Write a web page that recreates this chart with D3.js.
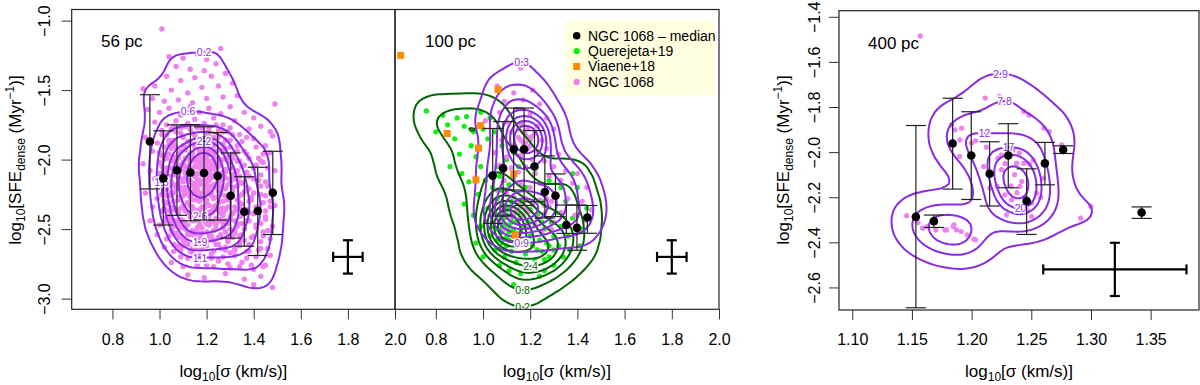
<!DOCTYPE html>
<html>
<head>
<meta charset="utf-8">
<script src="https://cdn.jsdelivr.net/npm/d3@7"></script>
<style>
body { margin: 0; background: #fff; }
svg { font-family: "Liberation Sans", Arial, Helvetica, sans-serif; display: block; }
</style>
</head>
<body>
<div id="chart"></div>
<script>
// ---- data ----
const panelLabels = ["56 pc", "100 pc", "400 pc"];
const xTicksWide = [0.8, 1.0, 1.2, 1.4, 1.6, 1.8, 2.0];
const yTicksWide = [-3.0, -2.5, -2.0, -1.5, -1.0];
const xTicks400 = [1.10, 1.15, 1.20, 1.25, 1.30, 1.35];
const yTicks400 = [-2.6, -2.4, -2.2, -2.0, -1.8, -1.6, -1.4];

const legendNames = ["NGC 1068 \u2013 median", "Querejeta+19", "Viaene+18", "NGC 1068"];

// medians with 16-84 range
const med56Sigma = [0.959, 1.016, 1.074, 1.131, 1.189, 1.247, 1.302, 1.360, 1.417, 1.481];
const med56Sfe = [-1.870, -2.134, -2.077, -2.094, -2.096, -2.118, -2.260, -2.375, -2.370, -2.238];
const med56Lo = [-2.211, -2.471, -2.401, -2.440, -2.435, -2.435, -2.565, -2.623, -2.690, -2.539];
const med56Hi = [-1.533, -1.793, -1.750, -1.748, -1.764, -1.805, -1.952, -2.123, -2.055, -1.940];

const med100Sigma = [1.041, 1.085, 1.130, 1.174, 1.218, 1.262, 1.307, 1.353, 1.398, 1.442];
const med100Sfe = [-2.115, -2.062, -1.925, -1.925, -2.050, -2.233, -2.260, -2.471, -2.491, -2.416];
const med100Lo = [-2.459, -2.406, -2.219, -2.330, -2.303, -2.420, -2.410, -2.531, -2.652, -2.530];
const med100Hi = [-1.776, -1.726, -1.629, -1.629, -1.791, -1.973, -2.103, -2.327, -2.327, -2.330];

const med400Sigma = [1.1533, 1.1684, 1.1841, 1.1997, 1.2151, 1.2307, 1.2461, 1.2614, 1.2767, 1.3424];
const med400Sfe = [-2.287, -2.306, -1.962, -2.015, -2.096, -2.015, -2.217, -2.050, -1.990, -2.268];
const med400Lo = [-2.690, -2.334, -2.164, -2.210, -2.239, -2.158, -2.365, -2.145, -2.006, -2.294];
const med400Hi = [-1.882, -2.279, -1.761, -1.821, -1.954, -1.874, -2.074, -1.957, -1.972, -2.243];

// typical uncertainty crosses
const errCrossX = [1.80, 1.80, 1.32];
const errCrossY = [-2.70, -2.70, -2.52];
const errCrossDx = [0.0625, 0.0625, 0.06];
const errCrossDy = [0.12, 0.12, 0.118];

// density contour levels
const levels56 = [0.2, 0.6, 1.1, 1.5, 1.9, 2.2, 2.6, 3.0];
const levels100 = [0.3, 0.9, 1.5, 2.1, 2.7, 3.3, 3.9];
const levelsQ19 = [0.2, 0.8, 1.4, 1.9, 2.4, 2.9, 3.4, 3.9, 4.4];
const levels400 = [2.9, 7.8, 12, 17, 20, 24];

// Viaene+18 (100 pc panel)
const viaenePoints = [[0.651,-1.250],[1.064,-1.497],[0.990,-1.755],[0.848,-1.812],
  [0.981,-1.918],[0.970,-2.146],[1.130,-2.103],[1.136,-2.541]];

// NGC 1068 pixels at 56 pc
const ngc56Points = [
  [1.01,-1.06],[1.26,-1.20],[1.04,-1.26],[1.10,-1.27],[1.16,-1.24],[1.20,-1.28],[1.07,-1.33],[1.13,-1.35],
  [1.19,-1.36],[1.24,-1.31],[1.03,-1.40],[1.09,-1.43],[1.15,-1.41],[1.22,-1.40],[1.28,-1.38],[0.93,-1.49],
  [0.98,-1.47],[1.05,-1.50],[1.12,-1.52],[1.18,-1.48],[1.25,-1.47],[1.31,-1.45],[1.49,-1.60],[0.97,-1.56],
  [1.02,-1.58],[1.08,-1.57],[1.14,-1.59],[1.20,-1.56],[1.27,-1.55],[1.33,-1.54],
  [0.95,-1.64],[1.00,-1.66],[1.04,-1.63],[1.09,-1.68],[1.13,-1.62],[1.17,-1.66],[1.21,-1.63],[1.26,-1.67],
  [1.30,-1.62],[1.36,-1.66],[1.40,-1.70],[0.98,-1.73],[1.03,-1.75],[1.07,-1.72],[1.11,-1.76],[1.15,-1.71],
  [1.19,-1.74],[1.23,-1.70],[1.27,-1.75],[1.32,-1.72],[1.38,-1.78],[1.43,-1.76],[1.47,-1.80],[1.01,-1.79],
  [1.13,-1.78],[1.25,-1.79],
  [0.94,-1.84],[0.99,-1.88],[1.03,-1.82],[1.06,-1.86],[1.09,-1.81],[1.12,-1.87],[1.15,-1.83],[1.18,-1.85],
  [1.20,-1.81],[1.22,-1.88],[1.25,-1.84],[1.28,-1.86],[1.31,-1.82],[1.35,-1.87],[1.40,-1.85],[1.45,-1.90],
  [1.48,-1.83],[0.97,-1.94],[1.01,-1.97],[1.05,-1.92],[1.08,-1.96],[1.11,-1.93],[1.14,-1.98],[1.17,-1.92],
  [1.19,-1.96],[1.21,-1.91],[1.23,-1.97],[1.26,-1.93],[1.29,-1.98],[1.33,-1.94],[1.37,-1.96],[1.42,-1.99],
  [1.47,-1.95],[1.16,-1.89],[1.24,-1.94],
  [0.93,-2.03],[0.96,-2.08],[1.00,-2.02],[1.03,-2.06],[1.05,-2.01],[1.07,-2.09],[1.09,-2.04],[1.11,-2.07],
  [1.13,-2.02],[1.15,-2.05],[1.17,-2.01],[1.18,-2.08],[1.20,-2.03],[1.21,-2.06],[1.23,-2.00],[1.24,-2.09],
  [1.26,-2.04],[1.28,-2.07],[1.30,-2.02],[1.33,-2.08],[1.36,-2.04],[1.40,-2.06],[1.44,-2.02],[1.49,-2.08],
  [0.98,-2.14],[1.01,-2.17],[1.04,-2.12],[1.06,-2.18],[1.08,-2.13],[1.10,-2.16],[1.12,-2.11],[1.14,-2.19],
  [1.16,-2.14],[1.19,-2.12],[1.20,-2.17],[1.22,-2.13],[1.25,-2.16],[1.27,-2.11],[1.29,-2.18],[1.32,-2.14],
  [1.35,-2.17],[1.38,-2.12],[1.42,-2.15],[1.46,-2.19],[1.18,-2.04],[1.21,-2.10],[1.13,-2.09],
  [0.94,-2.24],[0.99,-2.28],[1.02,-2.22],[1.05,-2.26],[1.07,-2.21],[1.09,-2.29],[1.11,-2.24],[1.13,-2.27],
  [1.15,-2.22],[1.17,-2.30],[1.19,-2.25],[1.21,-2.21],[1.23,-2.28],[1.25,-2.23],[1.27,-2.30],[1.30,-2.25],
  [1.33,-2.29],[1.36,-2.23],[1.39,-2.27],[1.43,-2.25],[1.47,-2.30],[0.97,-2.34],[1.01,-2.37],[1.04,-2.32],
  [1.07,-2.36],[1.10,-2.33],[1.12,-2.38],[1.14,-2.34],[1.17,-2.36],[1.20,-2.32],[1.22,-2.37],[1.24,-2.33],
  [1.27,-2.38],[1.29,-2.34],[1.32,-2.37],[1.35,-2.32],[1.38,-2.38],[1.41,-2.34],[1.45,-2.37],[1.49,-2.33],
  [1.16,-2.26],[1.26,-2.35],
  [0.96,-2.44],[1.00,-2.47],[1.03,-2.42],[1.06,-2.48],[1.09,-2.43],[1.11,-2.46],[1.14,-2.41],[1.16,-2.49],
  [1.19,-2.44],[1.21,-2.47],[1.24,-2.42],[1.27,-2.46],[1.30,-2.43],[1.33,-2.48],[1.37,-2.44],[1.41,-2.47],
  [1.45,-2.43],[1.48,-2.48],[0.99,-2.54],[1.03,-2.57],[1.07,-2.53],[1.10,-2.58],[1.13,-2.54],[1.17,-2.56],
  [1.20,-2.52],[1.23,-2.58],[1.26,-2.54],[1.29,-2.57],[1.32,-2.53],[1.36,-2.58],[1.40,-2.55],[1.44,-2.52],
  [1.47,-2.57],
  [1.02,-2.63],[1.06,-2.66],[1.10,-2.62],[1.14,-2.67],[1.18,-2.63],[1.22,-2.68],[1.26,-2.64],[1.30,-2.67],
  [1.34,-2.62],[1.38,-2.66],[1.43,-2.64],[1.47,-2.69],[1.05,-2.74],[1.10,-2.77],[1.15,-2.72],[1.20,-2.76],
  [1.25,-2.73],[1.30,-2.78],[1.35,-2.74],[1.40,-2.79],[1.45,-2.76],[1.12,-2.83],[1.19,-2.85],[1.28,-2.82],
  [1.36,-2.86],[1.40,-2.90],[1.48,-2.92],[1.43,-2.84],
  [1.10,-1.90],[1.14,-1.95],[1.18,-1.99],[1.22,-1.86],[1.19,-1.90],[1.23,-2.03],[1.16,-2.10],[1.19,-2.15],
  [1.24,-2.12],[1.11,-2.13],[1.15,-2.17],[1.22,-2.19],[1.09,-2.20],[1.13,-2.23],[1.18,-2.28],[1.21,-2.33],
  [1.12,-2.31],[1.08,-2.38],[1.15,-2.42],[1.20,-2.40],[1.25,-2.44],[1.11,-2.50],[1.16,-2.52],[1.22,-2.55],
  [1.06,-2.30],[1.04,-2.18],[1.07,-2.03],[1.26,-2.22],[1.28,-2.26],[1.31,-2.20],[1.24,-2.50],[1.18,-2.60],
  [1.14,-2.64],[1.09,-2.70],[1.21,-1.96],[1.17,-1.94],[1.12,-1.99],[1.25,-1.99],[1.08,-1.99],[1.20,-2.24],
  [1.17,-2.44],[1.27,-2.40],[1.30,-2.50],[1.34,-2.41],[1.05,-2.45],[1.02,-2.30],[1.00,-2.10],[1.03,-1.96],
  [1.05,-1.78],[1.09,-1.77],[1.16,-1.77],[1.21,-1.78],[1.29,-1.80],
  [1.04,-1.89],[1.07,-1.91],[1.13,-1.88],[1.15,-1.91],[1.20,-1.88],[1.23,-1.90],[1.27,-1.89],[1.30,-1.91],
  [1.02,-2.00],[1.06,-1.98],[1.10,-2.02],[1.14,-2.00],[1.16,-2.03],[1.19,-2.01],[1.22,-2.04],[1.25,-2.02],
  [1.27,-2.00],[1.31,-1.99],[1.34,-2.01],
  [1.03,-2.09],[1.06,-2.11],[1.09,-2.08],[1.12,-2.05],[1.14,-2.08],[1.17,-2.06],[1.19,-2.09],[1.22,-2.07],
  [1.25,-2.10],[1.28,-2.09],[1.31,-2.11],[1.34,-2.12],
  [1.02,-2.20],[1.05,-2.16],[1.08,-2.17],[1.11,-2.20],[1.13,-2.16],[1.15,-2.12],[1.17,-2.18],[1.19,-2.21],
  [1.21,-2.15],[1.23,-2.18],[1.26,-2.19],[1.28,-2.13],[1.30,-2.16],[1.33,-2.19],[1.37,-2.20],
  [1.03,-2.26],[1.06,-2.24],[1.08,-2.27],[1.10,-2.22],[1.12,-2.25],[1.14,-2.29],[1.16,-2.23],[1.18,-2.26],
  [1.20,-2.29],[1.22,-2.24],[1.24,-2.27],[1.26,-2.25],[1.29,-2.28],[1.31,-2.23],[1.34,-2.26],[1.38,-2.30],
  [1.04,-2.37],[1.06,-2.34],[1.09,-2.35],[1.11,-2.37],[1.13,-2.33],[1.15,-2.36],[1.16,-2.39],[1.19,-2.35],
  [1.21,-2.38],[1.23,-2.34],[1.25,-2.37],[1.28,-2.36],[1.31,-2.39],[1.34,-2.35],[1.37,-2.36],
  [1.05,-2.42],[1.08,-2.46],[1.10,-2.44],[1.12,-2.47],[1.14,-2.44],[1.17,-2.47],[1.19,-2.42],[1.22,-2.45],
  [1.24,-2.47],[1.26,-2.43],[1.29,-2.46],[1.32,-2.44],[1.35,-2.46],
  [1.06,-2.53],[1.09,-2.55],[1.12,-2.53],[1.15,-2.55],[1.18,-2.53],[1.21,-2.57],[1.25,-2.56],[1.28,-2.52],
  [1.31,-2.56],[1.34,-2.55],
  [1.08,-2.62],[1.12,-2.61],[1.16,-2.63],[1.20,-2.62],[1.24,-2.61],[1.28,-2.63],[1.32,-2.65],
  [1.17,-1.96],[1.18,-2.02],[1.20,-1.98],[1.21,-2.01],[1.19,-2.06],[1.22,-1.94],[1.20,-1.93],[1.16,-1.99],
  [1.23,-2.06],[1.18,-2.11],[1.21,-2.13],[1.17,-2.15],[1.19,-2.18],[1.20,-2.20],[1.16,-2.21],
  [1.06,-1.76],[1.12,-1.74],[1.18,-1.77],[1.24,-1.75],[1.30,-1.77],
  [1.01,-1.82],[1.07,-1.80],[1.14,-1.81],[1.21,-1.83],[1.27,-1.80],[1.34,-1.82],
  [1.04,-1.86],[1.10,-1.84],[1.17,-1.86],[1.23,-1.84],[1.30,-1.86],[1.37,-1.84],
  [1.02,-1.91],[1.06,-1.89],[1.11,-1.91],[1.15,-1.89],[1.19,-1.91],[1.24,-1.89],[1.28,-1.92],[1.33,-1.90],[1.41,-1.91],
  [1.00,-1.95],[1.04,-1.96],[1.09,-1.94],[1.13,-1.96],[1.18,-1.94],[1.22,-1.96],[1.27,-1.95],[1.31,-1.96],[1.36,-1.94],[1.44,-1.96],
  [1.03,-1.99],[1.07,-2.01],[1.11,-1.99],[1.15,-2.01],[1.19,-1.99],[1.24,-2.01],[1.29,-2.00],[1.33,-2.01],[1.38,-1.99],[1.43,-2.01],
  [1.01,-2.05],[1.05,-2.06],[1.10,-2.04],[1.14,-2.06],[1.17,-2.04],[1.20,-2.06],[1.25,-2.05],[1.31,-2.06],[1.35,-2.05],[1.41,-2.04],[1.46,-2.06],
  [1.02,-2.11],[1.07,-2.09],[1.11,-2.10],[1.15,-2.11],[1.19,-2.09],[1.23,-2.11],[1.27,-2.09],[1.32,-2.10],[1.37,-2.09],[1.43,-2.11],
  [1.00,-2.15],[1.04,-2.16],[1.09,-2.14],[1.13,-2.15],[1.17,-2.16],[1.21,-2.14],[1.26,-2.15],[1.30,-2.14],[1.34,-2.16],[1.40,-2.14],[1.45,-2.16],
  [1.03,-2.21],[1.07,-2.19],[1.11,-2.21],[1.15,-2.19],[1.20,-2.21],[1.24,-2.20],[1.28,-2.21],[1.33,-2.19],[1.38,-2.21],[1.43,-2.19],
  [1.01,-2.25],[1.05,-2.24],[1.10,-2.26],[1.14,-2.25],[1.18,-2.24],[1.22,-2.26],[1.26,-2.24],[1.31,-2.26],[1.35,-2.25],[1.40,-2.24],[1.45,-2.26],
  [1.03,-2.31],[1.08,-2.29],[1.12,-2.31],[1.16,-2.29],[1.20,-2.30],[1.25,-2.31],[1.29,-2.29],[1.34,-2.31],[1.39,-2.29],[1.44,-2.31],
  [1.02,-2.35],[1.06,-2.36],[1.10,-2.34],[1.14,-2.36],[1.18,-2.34],[1.23,-2.36],[1.27,-2.35],[1.32,-2.34],[1.36,-2.36],[1.42,-2.35],[1.47,-2.34],
  [1.04,-2.41],[1.08,-2.39],[1.13,-2.41],[1.17,-2.39],[1.21,-2.41],[1.26,-2.39],[1.30,-2.41],[1.35,-2.40],[1.40,-2.39],[1.45,-2.41],
  [1.02,-2.45],[1.07,-2.44],[1.11,-2.46],[1.15,-2.44],[1.20,-2.46],[1.24,-2.45],[1.28,-2.44],[1.33,-2.46],[1.38,-2.44],[1.43,-2.46],
  [1.05,-2.51],[1.09,-2.49],[1.14,-2.51],[1.18,-2.49],[1.23,-2.51],[1.27,-2.49],[1.32,-2.51],[1.36,-2.50],[1.41,-2.49],[1.46,-2.51],
  [1.04,-2.55],[1.08,-2.56],[1.12,-2.54],[1.17,-2.56],[1.21,-2.54],[1.26,-2.56],[1.30,-2.55],[1.35,-2.54],[1.39,-2.56],[1.44,-2.55],
  [1.06,-2.61],[1.11,-2.59],[1.15,-2.61],[1.20,-2.59],[1.25,-2.61],[1.29,-2.59],[1.34,-2.60],[1.38,-2.61],[1.43,-2.59],
  [1.09,-2.65],[1.13,-2.66],[1.18,-2.64],[1.23,-2.66],[1.28,-2.65],[1.32,-2.64],[1.37,-2.66],[1.42,-2.65],[1.46,-2.64],
  [1.12,-2.71],[1.17,-2.69],[1.22,-2.71],[1.27,-2.70],[1.32,-2.69],[1.37,-2.71],[1.41,-2.70],
  [1.16,-2.76],[1.23,-2.77],[1.29,-2.75],[1.34,-2.77],[1.39,-2.76],[1.44,-2.77]
];

// NGC 1068 pixels at 100 pc
const ngc100Points = [
  [1.16,-1.34],[1.06,-1.47],[1.13,-1.52],[1.21,-1.50],[1.09,-1.58],[1.17,-1.57],[1.24,-1.60],[1.07,-1.66],
  [1.14,-1.64],[1.20,-1.67],[1.27,-1.70],[1.01,-1.72],[1.10,-1.73],[1.16,-1.74],[1.19,-1.78],[1.23,-1.76],
  [1.30,-1.78],[1.12,-1.80],[1.15,-1.84],[1.18,-1.82],[1.20,-1.86],[1.22,-1.81],[1.17,-1.88],[1.25,-1.86],
  [1.08,-1.86],[1.13,-1.90],[1.19,-1.92],[1.23,-1.94],[1.27,-1.92],[1.32,-1.96],[1.05,-1.95],[1.10,-1.98],
  [1.16,-1.97],[1.21,-2.00],[1.26,-2.01],[1.30,-2.05],[1.35,-2.08],[1.40,-2.10],[1.07,-2.04],[1.12,-2.06],
  [1.15,-2.09],[1.18,-2.05],[1.22,-2.10],[1.28,-2.12],[1.33,-2.15],[1.38,-2.17],[1.44,-2.20],[1.04,-2.12],
  [1.09,-2.15],[1.13,-2.14],[1.16,-2.18],[1.20,-2.20],[1.24,-2.17],[1.27,-2.23],[1.31,-2.25],[1.36,-2.28],
  [1.42,-2.30],[1.46,-2.36],[1.06,-2.22],[1.10,-2.24],[1.13,-2.27],[1.15,-2.30],[1.18,-2.28],[1.21,-2.32],
  [1.24,-2.29],[1.28,-2.34],[1.33,-2.38],[1.39,-2.40],[1.43,-2.44],[1.05,-2.32],[1.08,-2.36],[1.12,-2.34],
  [1.14,-2.38],[1.17,-2.40],[1.20,-2.37],[1.23,-2.42],[1.26,-2.39],[1.30,-2.45],[1.36,-2.48],[1.41,-2.52],
  [1.07,-2.44],[1.11,-2.42],[1.15,-2.46],[1.19,-2.49],[1.22,-2.47],[1.25,-2.52],[1.29,-2.50],[1.13,-2.55],
  [1.09,-2.50],[1.03,-2.40],
  [1.17,-1.80],[1.19,-1.84],[1.16,-1.86],[1.18,-1.88],[1.20,-1.90],[1.15,-1.78],[1.21,-1.83],[1.14,-2.36],
  [1.16,-2.34],[1.13,-2.40],[1.16,-2.42],[1.18,-2.36],[1.27,-2.28],[1.29,-2.30],[1.26,-2.33]
];

// Querejeta+19 (100 pc panel)
const querejetaPoints = [
  [0.76,-1.65],[0.83,-1.68],[0.89,-1.70],[0.93,-1.69],[0.99,-1.66],[1.03,-1.70],[0.85,-1.75],[0.92,-1.76],
  [0.80,-1.80],[0.96,-1.80],[0.88,-1.85],[1.00,-1.78],[0.95,-1.90],[0.90,-1.96],[0.86,-2.05],[0.91,-2.10],
  [0.97,-1.98],[1.02,-1.85],[0.99,-2.05],[0.94,-2.16],[0.98,-2.25],[1.01,-2.15],[0.92,-2.32],[0.96,-2.40],
  [0.99,-2.48],[1.02,-2.35],[0.97,-2.60],[1.00,-2.70],[1.03,-2.55],
  [1.04,-2.20],[1.06,-2.28],[1.08,-2.22],[1.05,-2.38],[1.07,-2.45],[1.09,-2.33],[1.10,-2.40],[1.11,-2.48],
  [1.12,-2.30],[1.08,-2.52],[1.13,-2.55],[1.06,-2.58],[1.10,-2.62],[1.14,-2.45],[1.15,-2.38],[1.12,-2.66],
  [1.16,-2.52],[1.17,-2.60],[1.09,-2.70],[1.14,-2.74],[1.18,-2.68],[1.20,-2.55],[1.19,-2.45],[1.21,-2.62],
  [1.22,-2.72],[1.24,-2.58],[1.25,-2.66],[1.26,-2.50],[1.27,-2.60],[1.28,-2.70],[1.23,-2.40],[1.25,-2.30],
  [1.29,-2.45],[1.30,-2.55],[1.31,-2.38],[1.33,-2.48],[1.32,-2.62],[1.35,-2.30],[1.36,-2.55],[1.38,-2.42],
  [1.40,-2.20],[1.42,-2.50],[1.38,-2.10],[1.33,-2.20],[1.28,-2.15],[1.22,-2.10],[1.18,-2.20],[1.15,-2.05],
  [1.10,-2.00],[1.06,-2.05],[1.13,-1.95],[1.08,-1.90],[1.05,-1.80],[1.16,-2.30],[1.11,-2.18],[1.07,-2.12],
  [1.04,-2.48],[1.05,-2.65],[1.07,-2.76],[1.11,-2.80],[1.16,-2.82],[1.20,-2.78],[1.24,-2.84],[1.13,-2.90],
  [1.18,-2.95],[1.26,-2.80],[1.30,-2.76],[1.34,-2.70],[1.37,-2.65],[1.10,-2.56],[1.12,-2.42],[1.08,-2.60],
  [1.17,-2.48],[1.20,-2.36],[1.14,-2.62],[1.06,-2.50],[1.09,-2.46],[1.11,-2.35],[1.13,-2.50],[1.15,-2.58],
  [1.18,-2.75],[1.23,-2.65],[1.26,-2.72],[1.28,-2.62],[1.25,-2.45],[1.30,-2.65],[1.44,-2.35],[1.41,-2.62],
  [1.09,-2.42],[1.10,-2.47],[1.11,-2.52],[1.12,-2.45],[1.08,-2.49],[1.10,-2.36],[1.07,-2.40],[1.11,-2.58]
];

// NGC 1068 pixels at 400 pc
const ngc400Points = [
  [1.157,-1.485],
  [1.2114,-1.760],[1.2231,-1.753],[1.2293,-1.780],[1.2237,-1.783],[1.2438,-1.820],[1.2480,-1.835],
  [1.2606,-1.894],[1.2650,-1.909],[1.2754,-1.968],[1.1832,-1.879],[1.1860,-1.901],[1.1916,-1.894],
  [1.1902,-1.946],[1.2000,-1.960],[1.2033,-1.950],[1.2125,-1.978],[1.1900,-2.019],[1.2100,-2.064],
  [1.2220,-2.027],[1.2250,-2.012],[1.2348,-1.990],[1.2400,-2.004],[1.2377,-2.049],[1.2438,-2.049],
  [1.2483,-2.052],[1.2516,-2.034],[1.2250,-2.078],[1.2153,-2.160],[1.2214,-2.152],[1.2279,-2.189],
  [1.2335,-2.212],[1.2405,-2.152],[1.2544,-2.182],[1.2600,-2.115],[1.2503,-2.226],[1.2503,-2.286],
  [1.2382,-2.263],[1.2293,-2.278],[1.1456,-2.282],[1.1550,-2.312],[1.1628,-2.330],[1.1852,-2.322],
  [1.1874,-2.345],[1.1913,-2.352],[1.1963,-2.367],[1.1790,-2.345],[1.2033,-2.389],[1.2913,-2.293],
  [1.3000,-2.241],[1.1590,-2.337],[1.1700,-2.345],[1.1777,-2.345],[1.1846,-2.330],[1.2022,-2.386],
  [1.236,-2.10],[1.242,-2.13],[1.238,-2.18],[1.244,-2.20],[1.240,-2.24],[1.247,-2.26],[1.233,-2.15],
  [1.258,-2.20],[1.228,-2.05]
];

// ---- drawing ----
const W = 1200, H = 385;
const VIOLET = "#ee82ee", PURPLE = "#8a2be2", GREEN = "#11ee11", DKGREEN = "#006400", ORANGE = "#ff8c00";

const svg = d3.select("#chart").append("svg")
  .attr("width", W)
  .attr("height", H)
  .style("background", "#fff");

const panels = [
  {label: panelLabels[0], left: 71.7, right: 395, top: 9.5, bottom: 309.3,
   xDom: [0.627, 2.0], yDom: [-3.077, -0.92], xTicks: xTicksWide, yTicks: yTicksWide,
   xFmt: ".1f", yFmt: ".1f", yAxis: true, labelX: 101, labelY: 47, tickLabelGap: 22},
  {label: panelLabels[1], left: 395, right: 719, top: 9.5, bottom: 309.3,
   xDom: [0.627, 2.0], yDom: [-3.077, -0.92], xTicks: xTicksWide, yTicks: yTicksWide,
   xFmt: ".1f", yFmt: ".1f", yAxis: false, labelX: 425, labelY: 47},
  {label: panelLabels[2], left: 839, right: 1199, top: 10.7, bottom: 310,
   xDom: [1.0889, 1.3905], yDom: [-2.70, -1.373], xTicks: xTicks400, yTicks: yTicks400,
   xFmt: ".2f", yFmt: ".1f", yAxis: true, labelX: 868, labelY: 49, tickLabelGap: 19}
];

panels.forEach((p, i) => {
  p.x = d3.scaleLinear().domain(p.xDom).range([p.left, p.right]);
  p.y = d3.scaleLinear().domain(p.yDom).range([p.bottom, p.top]);
  svg.append("clipPath").attr("id", "clip" + i)
    .append("rect")
    .attr("x", 0).attr("y", 0)
    .attr("width", p.right - p.left).attr("height", p.bottom - p.top);
});

function plotGroup(p, i) {
  return svg.append("g")
    .attr("transform", `translate(${p.left},${p.top})`)
    .attr("clip-path", `url(#clip${i})`);
}

function drawPoints(p, i, pts, color, r) {
  plotGroup(p, i).selectAll("circle")
    .data(pts)
    .join("circle")
    .attr("cx", d => p.x(d[0]) - p.left)
    .attr("cy", d => p.y(d[1]) - p.top)
    .attr("r", r)
    .attr("fill", color);
}

// pick the extreme vertex of a contour on the requested side
function extremePoint(c, side) {
  let best = null;
  const better = (a, b) => side === "top" ? a[1] < b[1] : side === "bottom" ? a[1] > b[1]
    : side === "left" ? a[0] < b[0] : a[0] > b[0];
  c.coordinates.forEach(poly => poly.forEach(ring => ring.forEach(pt => {
    if (!best || better(pt, best)) best = pt;
  })));
  return best;
}

function drawContours(p, i, pts, levels, bw, color, sides) {
  const sx = Math.abs(p.x(1) - p.x(0)), sy = Math.abs(p.y(1) - p.y(0));
  const dens = d3.contourDensity()
    .x(d => p.x(d[0]) - p.left)
    .y(d => p.y(d[1]) - p.top)
    .size([p.right - p.left, p.bottom - p.top])
    .bandwidth(bw)
    .thresholds(levels.map(f => pts.length * f / (sx * sy)))(pts);
  const g = plotGroup(p, i);
  g.selectAll("path")
    .data(dens)
    .join("path")
    .attr("d", d3.geoPath())
    .attr("fill", "none")
    .attr("stroke", color)
    .attr("stroke-width", 2);
  dens.forEach((c, k) => {
    const side = sides[k];
    if (!side || !c.coordinates.length) return;
    const best = extremePoint(c, side);
    g.append("text")
      .attr("x", best[0])
      .attr("y", best[1] + 4)
      .attr("text-anchor", "middle")
      .attr("font-size", 10.5)
      .attr("fill", color)
      .attr("stroke", "#fff")
      .attr("stroke-width", 3)
      .attr("paint-order", "stroke")
      .text(levels[k]);
  });
}

function drawMedians(p, sig, sfe, lo, hi) {
  const g = svg.append("g");
  const idx = d3.range(sig.length);
  g.selectAll("line.bar").data(idx).join("line")
    .attr("x1", k => p.x(sig[k])).attr("x2", k => p.x(sig[k]))
    .attr("y1", k => p.y(lo[k])).attr("y2", k => p.y(hi[k]))
    .attr("stroke", "#222").attr("stroke-width", 1.2);
  [lo, hi].forEach(arr => {
    g.selectAll(null).data(idx).join("line")
      .attr("x1", k => p.x(sig[k]) - 10).attr("x2", k => p.x(sig[k]) + 10)
      .attr("y1", k => p.y(arr[k])).attr("y2", k => p.y(arr[k]))
      .attr("stroke", "#222").attr("stroke-width", 1.2);
  });
  g.selectAll("circle").data(idx).join("circle")
    .attr("cx", k => p.x(sig[k]))
    .attr("cy", k => p.y(sfe[k]))
    .attr("r", 4.3)
    .attr("fill", "#000");
}

function drawCross(p, k) {
  const g = svg.append("g").attr("stroke", "#000").attr("stroke-width", 2.2);
  const cx = p.x(errCrossX[k]), cy = p.y(errCrossY[k]);
  const x0 = p.x(errCrossX[k] - errCrossDx[k]), x1 = p.x(errCrossX[k] + errCrossDx[k]);
  const y0 = p.y(errCrossY[k] - errCrossDy[k]), y1 = p.y(errCrossY[k] + errCrossDy[k]);
  g.append("line").attr("x1", x0).attr("x2", x1).attr("y1", cy).attr("y2", cy);
  g.append("line").attr("x1", cx).attr("x2", cx).attr("y1", y0).attr("y2", y1);
  g.append("line").attr("x1", x0).attr("x2", x0).attr("y1", cy - 5).attr("y2", cy + 5);
  g.append("line").attr("x1", x1).attr("x2", x1).attr("y1", cy - 5).attr("y2", cy + 5);
  g.append("line").attr("x1", cx - 5).attr("x2", cx + 5).attr("y1", y0).attr("y2", y0);
  g.append("line").attr("x1", cx - 5).attr("x2", cx + 5).attr("y1", y1).attr("y2", y1);
  svg.append("circle").attr("cx", cx).attr("cy", cy).attr("r", 1.6).attr("fill", "#000");
}

function drawAxes(p) {
  const ax = svg.append("g")
    .attr("transform", `translate(0,${p.bottom})`)
    .call(d3.axisBottom(p.x).tickValues(p.xTicks).tickSize(10).tickPadding(14).tickFormat(d3.format(p.xFmt)));
  ax.select(".domain").remove();
  ax.attr("font-size", 16).attr("font-family", null);
  ax.selectAll("line").attr("stroke", "#333");

  if (p.yAxis) {
    const ay = svg.append("g")
      .attr("transform", `translate(${p.left},0)`)
      .call(d3.axisLeft(p.y).tickValues(p.yTicks).tickSize(10).tickFormat(d3.format(p.yFmt)));
    ay.select(".domain").remove();
    ay.attr("font-size", 16).attr("font-family", null);
    ay.selectAll("line").attr("stroke", "#333");
    ay.selectAll("text")
      .attr("transform", "rotate(-90)")
      .attr("x", 0)
      .attr("y", -p.tickLabelGap)
      .attr("dy", 0)
      .attr("text-anchor", "middle");
  }

  svg.append("rect")
    .attr("x", p.left).attr("y", p.top)
    .attr("width", p.right - p.left).attr("height", p.bottom - p.top)
    .attr("fill", "none").attr("stroke", "#222").attr("stroke-width", 1.2);

  // x title
  const xt = svg.append("text")
    .attr("x", (p.left + p.right) / 2)
    .attr("y", 377)
    .attr("text-anchor", "middle")
    .attr("font-size", 17);
  xt.append("tspan").text("log");
  xt.append("tspan").attr("font-size", 12).attr("dy", 4).text("10");
  xt.append("tspan").attr("dy", -4).text("[\u03c3 (km/s)]");

  // panel label
  svg.append("text")
    .attr("x", p.labelX).attr("y", p.labelY)
    .attr("font-size", 17)
    .text(p.label);
}

function yTitle(xPos) {
  const t = svg.append("text")
    .attr("transform", `translate(${xPos},160) rotate(-90)`)
    .attr("text-anchor", "middle")
    .attr("font-size", 17);
  t.append("tspan").text("log");
  t.append("tspan").attr("font-size", 12).attr("dy", 4).text("10");
  t.append("tspan").attr("dy", -4).text("[SFE");
  t.append("tspan").attr("font-size", 12).attr("dy", 4).text("dense");
  t.append("tspan").attr("dy", -4).text(" (Myr");
  t.append("tspan").attr("font-size", 12).attr("dy", -7).text("\u22121");
  t.append("tspan").attr("dy", 7).text(")]");
}

// panel 1 : 56 pc
drawPoints(panels[0], 0, ngc56Points, VIOLET, 2.7);
drawContours(panels[0], 0, ngc56Points, levels56, 9, PURPLE,
  ["top", "top", "bottom", "left", "bottom", "top", "bottom", null]);
drawMedians(panels[0], med56Sigma, med56Sfe, med56Lo, med56Hi);
drawCross(panels[0], 0);

// panel 2 : 100 pc
drawPoints(panels[1], 1, querejetaPoints, GREEN, 2.6);
drawPoints(panels[1], 1, ngc100Points, VIOLET, 2.6);
drawContours(panels[1], 1, querejetaPoints, levelsQ19, 12, DKGREEN,
  ["bottom", "bottom", null, null, "bottom", null, null, null, null]);
drawContours(panels[1], 1, ngc100Points, levels100, 11, PURPLE,
  ["top", "bottom", null, null, null, null, null]);
plotGroup(panels[1], 1).selectAll("rect")
  .data(viaenePoints)
  .join("rect")
  .attr("x", d => panels[1].x(d[0]) - panels[1].left - 3.5)
  .attr("y", d => panels[1].y(d[1]) - panels[1].top - 3.5)
  .attr("width", 7).attr("height", 7)
  .attr("fill", ORANGE);
drawMedians(panels[1], med100Sigma, med100Sfe, med100Lo, med100Hi);
drawCross(panels[1], 1);

// panel 3 : 400 pc
drawPoints(panels[2], 2, ngc400Points, VIOLET, 2.6);
drawContours(panels[2], 2, ngc400Points, levels400, 18, PURPLE,
  ["top", "top", "top", "top", "bottom", null]);
drawMedians(panels[2], med400Sigma, med400Sfe, med400Lo, med400Hi);
drawCross(panels[2], 2);

panels.forEach(drawAxes);
yTitle(21);
yTitle(789);

// legend
const leg = svg.append("g").attr("transform", "translate(565,20.7)");
leg.append("rect").attr("width", 149).attr("height", 75).attr("fill", "#ffffe0");
const legColors = ["#000", GREEN, ORANGE, VIOLET];
legendNames.forEach((name, k) => {
  const cy = 15 + k * 15.4;
  if (k === 2) {
    leg.append("rect").attr("x", 11.7 - 3.5).attr("y", cy - 3.5).attr("width", 7).attr("height", 7).attr("fill", ORANGE);
  } else {
    leg.append("circle").attr("cx", 11.7).attr("cy", cy).attr("r", k === 0 ? 3.8 : 3.2).attr("fill", legColors[k]);
  }
  leg.append("text").attr("x", 23).attr("y", cy + 5).attr("font-size", 14).text(name);
});
</script>
</body>
</html>
